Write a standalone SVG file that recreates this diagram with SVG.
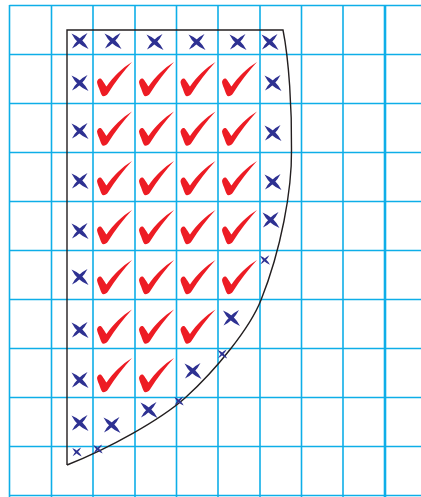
<svg xmlns="http://www.w3.org/2000/svg" xmlns:xlink="http://www.w3.org/1999/xlink" width="421" height="497" viewBox="0 0 421 497">
<style>
.grid line{stroke:#0eaee8;stroke-width:1.6}
.grid .thick{stroke-width:2.6}
.outline{fill:none;stroke:#231f20;stroke-width:1.4;stroke-linejoin:miter}
.chk{fill:#ed1c24}
.crs{fill:#2e3192}
</style>
<defs>
<path id="check" d="M0,20 C0.5,17.5 2,16 3.5,16.5 C5,17 7,21 9.5,24.5 C16,15 25,6 35,0 C27,9 18,20 11,31.5 C9.8,33.3 8,34.3 6.5,34.3 C5,34.3 4,32 3,29 C2,26 0,22 0,20 Z"/>
<path id="cross" d="M-8.5,-7.5 Q3.1,-2.8 8.5,8 Q-3.1,3.3 -8.5,-7.5 Z M7.5,-8 Q2.3,2.3 -8,7.5 Q-2.8,-2.8 7.5,-8 Z"/>
</defs>
<rect width="421" height="497" fill="#ffffff"/>
<g id="grid" class="grid">
<line x1="9.5" y1="5.5" x2="421" y2="5.5"/>
<line x1="9.5" y1="54.5" x2="421" y2="54.5"/>
<line x1="9.5" y1="103.5" x2="421" y2="103.5"/>
<line x1="9.5" y1="152.5" x2="421" y2="152.5"/>
<line x1="9.5" y1="201.5" x2="421" y2="201.5"/>
<line x1="9.5" y1="250.5" x2="421" y2="250.5"/>
<line x1="9.5" y1="299.5" x2="421" y2="299.5"/>
<line x1="9.5" y1="348.5" x2="421" y2="348.5"/>
<line x1="9.5" y1="397.5" x2="421" y2="397.5"/>
<line x1="9.5" y1="446.5" x2="421" y2="446.5"/>
<line x1="9.5" y1="495.5" x2="421" y2="495.5"/>
<line x1="9.5" y1="5" x2="9.5" y2="497"/>
<line x1="51.5" y1="5" x2="51.5" y2="497"/>
<line x1="93" y1="5" x2="93" y2="497"/>
<line x1="135" y1="5" x2="135" y2="497"/>
<line x1="176.5" y1="5" x2="176.5" y2="497"/>
<line x1="218" y1="5" x2="218" y2="497"/>
<line x1="260" y1="5" x2="260" y2="497"/>
<line x1="301.5" y1="5" x2="301.5" y2="497"/>
<line x1="343" y1="5" x2="343" y2="497"/>
<line class="thick" x1="385" y1="5" x2="385" y2="497"/>
</g>
<g id="outline">
<path class="outline" d="M67,465 L67,30 L283,30 C289,60 292,110 291.5,150 C292,190 281,250 261,300 C250,328 216,370 185,398 C160,420 110,448 67,465"/>
</g>
<g id="checks" class="chk">
<use xlink:href="#check" x="97" y="62"/><use xlink:href="#check" x="139" y="62"/><use xlink:href="#check" x="180.5" y="62"/><use xlink:href="#check" x="222" y="62"/>
<use xlink:href="#check" x="97" y="111.5"/><use xlink:href="#check" x="139" y="111.5"/><use xlink:href="#check" x="180.5" y="111.5"/><use xlink:href="#check" x="222" y="111.5"/>
<use xlink:href="#check" x="97" y="161"/><use xlink:href="#check" x="139" y="161"/><use xlink:href="#check" x="180.5" y="161"/><use xlink:href="#check" x="222" y="161"/>
<use xlink:href="#check" x="97" y="210"/><use xlink:href="#check" x="139" y="210"/><use xlink:href="#check" x="180.5" y="210"/><use xlink:href="#check" x="222" y="210"/>
<use xlink:href="#check" x="97" y="260"/><use xlink:href="#check" x="139" y="260"/><use xlink:href="#check" x="180.5" y="260"/><use xlink:href="#check" x="222" y="260"/>
<use xlink:href="#check" x="97" y="309.5"/><use xlink:href="#check" x="139" y="309.5"/><use xlink:href="#check" x="180.5" y="309.5"/>
<use xlink:href="#check" x="97" y="358"/><use xlink:href="#check" x="139" y="358"/>
</g>
<g id="crosses" class="crs">
<use xlink:href="#cross" transform="translate(80,41)"/>
<use xlink:href="#cross" transform="translate(113,41)"/>
<use xlink:href="#cross" transform="translate(155,42)"/>
<use xlink:href="#cross" transform="translate(197,42)"/>
<use xlink:href="#cross" transform="translate(238,42)"/>
<use xlink:href="#cross" transform="translate(270,42)"/>
<use xlink:href="#cross" transform="translate(80,83)"/>
<use xlink:href="#cross" transform="translate(273,83)"/>
<use xlink:href="#cross" transform="translate(80,131)"/>
<use xlink:href="#cross" transform="translate(273,133)"/>
<use xlink:href="#cross" transform="translate(80,181)"/>
<use xlink:href="#cross" transform="translate(273,182)"/>
<use xlink:href="#cross" transform="translate(80,231)"/>
<use xlink:href="#cross" transform="translate(271,220)"/>
<use xlink:href="#cross" transform="translate(80,277)"/>
<use xlink:href="#cross" transform="translate(265,260) scale(0.58)"/>
<use xlink:href="#cross" transform="translate(80,330)"/>
<use xlink:href="#cross" transform="translate(231.5,318)"/>
<use xlink:href="#cross" transform="translate(80,380)"/>
<use xlink:href="#cross" transform="translate(193,371)"/>
<use xlink:href="#cross" transform="translate(222.5,354) scale(0.55)"/>
<use xlink:href="#cross" transform="translate(80,423)"/>
<use xlink:href="#cross" transform="translate(112,425)"/>
<use xlink:href="#cross" transform="translate(149,410)"/>
<use xlink:href="#cross" transform="translate(179,401) scale(0.55)"/>
<use xlink:href="#cross" transform="translate(77,452) scale(0.55)"/>
<use xlink:href="#cross" transform="translate(98,449) scale(0.55)"/>
</g>
</svg>
